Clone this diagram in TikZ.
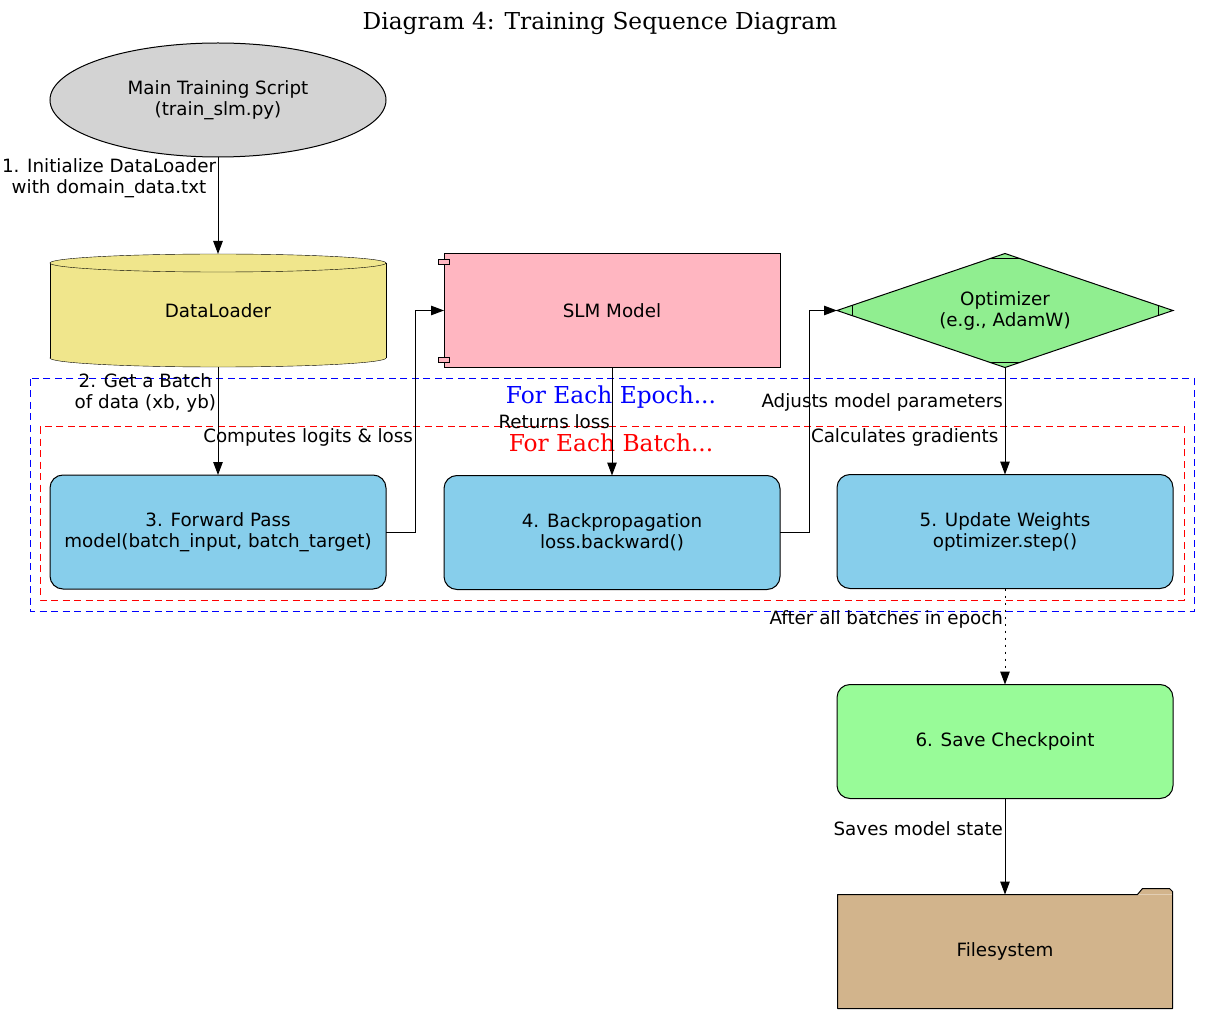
\documentclass[tikz,border=0pt]{standalone}
\usepackage{fontspec}
\setmainfont{DejaVu Sans}
\newfontfamily\serifface{DejaVu Serif}
\usepackage{tikz}
\usetikzlibrary{positioning,shapes.geometric,arrows.meta,calc,backgrounds}
\definecolor{scriptgray}{HTML}{D3D3D3}
\definecolor{loaderkhaki}{HTML}{F0E68C}
\definecolor{modelpink}{HTML}{FFB6C1}
\definecolor{optgreen}{HTML}{90EE90}
\definecolor{stepblue}{HTML}{87CEEB}
\definecolor{savegreen}{HTML}{98FB98}
\definecolor{foldertan}{HTML}{D2B48C}
\tikzset{
  box/.style={draw=black,line width=1pt,align=center,inner sep=0pt,outer sep=0pt,
    font=\fontsize{18.3}{21}\selectfont},
  script/.style={box,ellipse,fill=scriptgray,minimum width=336pt,minimum height=114pt},
  store/.style={box,draw=none,minimum width=336pt,minimum height=113pt},
  component/.style={box,rectangle,fill=modelpink,minimum width=336pt,minimum height=114pt},
  optim/.style={box,diamond,aspect=2.95,fill=optgreen,minimum width=336pt,minimum height=114pt},
  stepbox/.style={box,rectangle,rounded corners=13pt,fill=stepblue,minimum width=336pt,minimum height=114pt},
  savebox/.style={stepbox,fill=savegreen},
  folder/.style={box,draw=none,fill=foldertan,minimum width=335pt,minimum height=114pt},
  flow/.style={line width=1pt,-{Triangle[length=13pt,width=9.5pt]}},
  dotflow/.style={flow,dash pattern=on 2pt off 5pt},
  edgelabel/.style={font=\fontsize{18.3}{21}\selectfont,align=center,inner sep=1.5pt},
  clusterlabel/.style={font=\serifface\fontsize{23.3}{26}\selectfont,inner sep=0pt,anchor=base},
  epoch/.style={draw=blue,line width=1pt,dash pattern=on 7pt off 4.5pt},
  batch/.style={draw=red,line width=1pt,dash pattern=on 7pt off 4.5pt}
}
\begin{document}
\begin{tikzpicture}[x=1pt,y=-1pt,node distance=108pt and 58pt]
    \useasboundingbox (0,0) rectangle (1211,1016);
    \node[clusterlabel] (title) at (600,30) {Diagram 4: Training Sequence Diagram};
    \draw[epoch] (30,379) rectangle (1194,611);
    \draw[batch] (40,427) rectangle (1184,600);
    \node[clusterlabel,text=blue] (epochlabel) at (611,403) {For Each Epoch...};
    \node[clusterlabel,text=red] (batchlabel) at (611,451) {For Each Batch...};

    \node[script] (main) at (218,100) {Main Training Script\\(train\_slm.py)};
    \node[store,below=97pt of main] (loader) {DataLoader};
    \node[component,right=of loader] (slm) {SLM Model};
    \node[optim,right=57pt of slm] (opt) {Optimizer\\(e.g., AdamW)};
    \node[stepbox,below=of loader] (fwd) {3. Forward Pass\\model(batch\_input, batch\_target)};
    \node[stepbox,below=of slm] (back) {4. Backpropagation\\loss.backward()};
    \node[stepbox,below=107pt of opt] (upd) {5. Update Weights\\optimizer.step()};
    \node[savebox,below=96pt of upd] (save) {6. Save Checkpoint};
    \node[folder,below=96pt of save] (fs) {Filesystem};

    \begin{scope}[on background layer,line width=1pt]
      \draw[fill=loaderkhaki] ($(loader.south)+(0,-9)$) ellipse [x radius=168pt,y radius=9pt];
      \fill[loaderkhaki] ($(loader.north west)+(0,9)$) rectangle ($(loader.south east)+(0,-9)$);
      \draw ($(loader.north west)+(0,9)$) -- ($(loader.south west)+(0,-9)$);
      \draw ($(loader.north east)+(0,9)$) -- ($(loader.south east)+(0,-9)$);
      \draw[fill=loaderkhaki] ($(loader.north)+(0,9)$) ellipse [x radius=168pt,y radius=9pt];
    \end{scope}
    \fill[foldertan] ($(fs.north east)+(-35,0)$) -- ++(5,-6) -- ++(27,0) -- ++(3,3) -- ++(0,3) -- cycle;
    \draw[black,line width=1pt,line join=round] (fs.south west) -- (fs.north west) -- ($(fs.north east)+(-35,0)$)
      -- ++(5,-6) -- ++(27,0) -- ++(3,3) -- (fs.south east) -- cycle;

    \draw[line width=0.9pt,fill=modelpink] ($(slm.north west)+(-6,6)$) rectangle ++(11,5);
    \draw[line width=0.9pt,fill=modelpink] ($(slm.south west)+(-6,-10)$) rectangle ++(11,5);
    \draw[line width=1pt] ($(opt.west)+(15,-5.1)$) -- ($(opt.west)+(15,5.1)$);
    \draw[line width=1pt] ($(opt.east)+(-15,-5.1)$) -- ($(opt.east)+(-15,5.1)$);
    \draw[line width=1pt] ($(opt.north)+(-15,5.1)$) -- ($(opt.north)+(15,5.1)$);
    \draw[line width=1pt] ($(opt.south)+(-15,-5.1)$) -- ($(opt.south)+(15,-5.1)$);

    \draw[flow] (main) -- node[edgelabel,left,pos=0.22] {1. Initialize DataLoader\\with domain\_data.txt} (loader);
    \draw[flow] (loader) -- node[edgelabel,left,pos=0.24] {2. Get a Batch\\of data (xb, yb)} (fwd);
    \draw[flow] (fwd.east) -- ++(29,0) |- node[edgelabel,left,pos=0.214] {Computes logits \& loss} (slm.west);
    \draw[flow] (slm) -- node[edgelabel,left,pos=0.5] {Returns loss} (back);
    \draw[flow] (back.east) -- ++(29,0) |- node[edgelabel,right,pos=0.214] {Calculates gradients} (opt.west);
    \draw[flow] (opt) -- node[edgelabel,left,pos=0.33] {Adjusts model parameters} (upd);
    \draw[dotflow] (upd) -- node[edgelabel,left,pos=0.32] {After all batches in epoch} (save);
    \draw[flow] (save) -- node[edgelabel,left,pos=0.31] {Saves model state} (fs);
  \end{tikzpicture}
\end{document}
